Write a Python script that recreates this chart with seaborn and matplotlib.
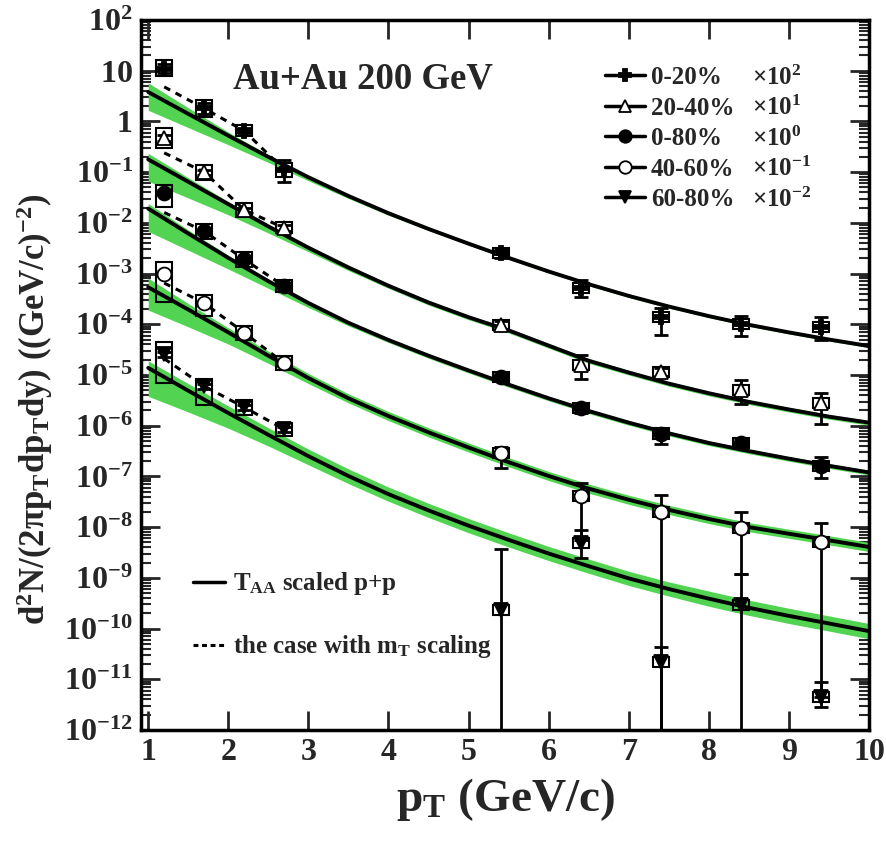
import numpy as np
import pandas as pd
import matplotlib
matplotlib.use("Agg")
import matplotlib.pyplot as plt
from matplotlib.lines import Line2D
from matplotlib.ticker import FixedLocator, LogLocator, NullFormatter
import seaborn as sns

# ---------------- data ----------------
centralities = ["0-20%", "20-40%", "0-80%", "40-60%", "60-80%"]
multipliers = [r"$\mathsf{\times10^{2}}$", r"$\mathsf{\times10^{1}}$", r"$\mathsf{\times10^{0}}$",
               r"$\mathsf{\times10^{-1}}$", r"$\mathsf{\times10^{-2}}$"]

# T_AA scaled p+p curves
pt_curve = [1, 1.5, 2, 2.5, 3, 3.5, 4, 4.5, 5, 5.5, 6, 6.5, 7, 7.5, 8, 8.5, 9, 9.5, 10]
curve_0_20 = [3.80, 1.41, 0.525, 0.200, 0.0794, 0.0339, 0.0155, 0.00759, 0.00389, 0.00204,
              0.00110, 6.17e-4, 3.63e-4, 2.24e-4, 1.45e-4, 9.77e-5, 6.92e-5, 5.01e-5, 3.72e-5]
curve_20_40 = [0.178, 0.0646, 0.0234, 0.00851, 0.00324, 0.00132, 5.75e-4, 2.69e-4, 1.38e-4, 7.59e-5,
               3.80e-5, 1.91e-5, 1.12e-5, 6.76e-6, 4.37e-6, 2.95e-6, 2.09e-6, 1.51e-6, 1.15e-6]
curve_0_80 = [0.0191, 0.00617, 0.00204, 7.08e-4, 2.63e-4, 1.07e-4, 4.90e-5, 2.40e-5, 1.23e-5, 6.46e-6,
              3.47e-6, 1.95e-6, 1.15e-6, 7.08e-7, 4.57e-7, 3.16e-7, 2.24e-7, 1.62e-7, 1.20e-7]
curve_40_60 = [5.37e-4, 1.95e-4, 6.92e-5, 2.40e-5, 8.71e-6, 3.47e-6, 1.55e-6, 7.41e-7, 3.72e-7, 1.91e-7,
               1.02e-7, 5.75e-8, 3.47e-8, 2.19e-8, 1.45e-8, 1.0e-8, 7.41e-9, 5.50e-9, 4.07e-9]
curve_60_80 = [1.38e-5, 4.90e-6, 1.78e-6, 6.61e-7, 2.51e-7, 1.02e-7, 4.47e-8, 2.14e-8, 1.07e-8, 5.62e-9,
               3.02e-9, 1.70e-9, 9.77e-10, 6.03e-10, 3.89e-10, 2.57e-10, 1.78e-10, 1.26e-10, 8.91e-11]

# green uncertainty band widths (decades below / above curve)
band_dn_0_20 = [0.36, 0.27, 0.18, 0.11, 0.07, 0.05, 0.04, 0.03, 0.03, 0.03, 0.03, 0.03, 0.03, 0.03, 0.03, 0.03, 0.03, 0.03, 0.03]
band_up_0_20 = [0.18, 0.12, 0.07, 0.04, 0.03, 0.03, 0.03, 0.03, 0.03, 0.03, 0.03, 0.03, 0.03, 0.03, 0.03, 0.03, 0.03, 0.03, 0.03]
band_dn_20_40 = [0.43, 0.32, 0.21, 0.13, 0.08, 0.06, 0.05, 0.05, 0.05, 0.05, 0.05, 0.05, 0.05, 0.05, 0.05, 0.05, 0.05, 0.05, 0.05]
band_up_20_40 = [0.12, 0.08, 0.05, 0.04, 0.04, 0.04, 0.04, 0.04, 0.04, 0.04, 0.04, 0.04, 0.04, 0.04, 0.04, 0.04, 0.04, 0.04, 0.04]
band_dn_0_80 = [0.45, 0.33, 0.22, 0.14, 0.09, 0.06, 0.05, 0.05, 0.05, 0.05, 0.05, 0.05, 0.05, 0.05, 0.05, 0.05, 0.05, 0.05, 0.05]
band_up_0_80 = [0.10, 0.07, 0.05, 0.04, 0.04, 0.04, 0.04, 0.04, 0.04, 0.04, 0.04, 0.04, 0.04, 0.04, 0.04, 0.04, 0.04, 0.04, 0.04]
band_dn_40_60 = [0.45, 0.34, 0.23, 0.15, 0.11, 0.09, 0.09, 0.09, 0.09, 0.09, 0.09, 0.09, 0.09, 0.09, 0.09, 0.09, 0.09, 0.09, 0.09]
band_up_40_60 = [0.18, 0.12, 0.09, 0.09, 0.09, 0.09, 0.09, 0.09, 0.09, 0.09, 0.09, 0.09, 0.09, 0.09, 0.09, 0.09, 0.09, 0.09, 0.09]
band_dn_60_80 = [0.56, 0.42, 0.30, 0.22, 0.17, 0.15, 0.14, 0.14, 0.14, 0.14, 0.14, 0.14, 0.14, 0.14, 0.15, 0.15, 0.15, 0.15, 0.15]
band_up_60_80 = [0.14, 0.14, 0.14, 0.14, 0.14, 0.14, 0.14, 0.14, 0.14, 0.14, 0.14, 0.14, 0.14, 0.14, 0.15, 0.15, 0.15, 0.15, 0.15]

# m_T scaling (dashed)
pt_mt = [1.2, 1.7, 2.2, 2.7]
mt_0_20 = [4.8, 1.8, 0.65, 0.11]
mt_20_40 = [0.24, 0.10, 0.018, 0.0079]
mt_0_80 = [0.016, 0.0068, 0.0019, 5.6e-4]
mt_40_60 = [6.5e-4, 2.6e-4, 6.8e-5, 1.7e-5]
mt_60_80 = [2.1e-5, 6.0e-6, 2.3e-6, 8.5e-7]

# data points
pt_data = [1.2, 1.7, 2.2, 2.7, 5.4, 6.4, 7.4, 8.4, 9.4]
y_0_20 = [11, 1.8, 0.65, 0.11, 2.5e-3, 5.1e-4, 1.4e-4, 1.0e-4, 8.8e-5]
lo_0_20 = [9.1, 1.43, 0.58, 0.063, 2.0e-3, 3.5e-4, 6.1e-5, 6.0e-5, 4.8e-5]
hi_0_20 = [13.3, 2.27, 0.73, 0.17, 3.1e-3, 7.4e-4, 2.1e-4, 1.45e-4, 1.4e-4]
y_20_40 = [0.47, 0.10, 0.018, 0.0079, 9.5e-5, 1.6e-5, 1.15e-5, 5.0e-6, 2.8e-6]
lo_20_40 = [0.42, 0.089, 0.016, 0.0070, 7.9e-5, 8.4e-6, 9.6e-6, 2.7e-6, 1.1e-6]
hi_20_40 = [0.53, 0.112, 0.020, 0.0089, 1.14e-4, 2.5e-5, 1.38e-5, 7.9e-6, 4.4e-6]
y_0_80 = [0.039, 0.0068, 0.0019, 5.6e-4, 9.1e-6, 2.2e-6, 7.0e-7, 4.5e-7, 1.6e-7]
lo_0_80 = [0.035, 0.0061, 0.0017, 5.0e-4, 7.6e-6, 1.75e-6, 4.4e-7, 3.6e-7, 9.2e-8]
hi_0_80 = [0.044, 0.0076, 0.0021, 6.3e-4, 1.09e-5, 2.77e-6, 8.8e-7, 5.7e-7, 2.4e-7]
y_40_60 = [1.0e-3, 2.6e-4, 6.8e-5, 1.7e-5, 2.9e-7, 4.1e-8, 2.0e-8, 9.5e-9, 5.0e-9]
lo_40_60 = [8.9e-4, 2.3e-4, 6.1e-5, 1.5e-5, 1.45e-7, 5.5e-9, 1e-13, 1.2e-9, 4.5e-12]
hi_40_60 = [1.12e-3, 2.9e-4, 7.6e-5, 1.9e-5, 3.8e-7, 7.5e-8, 4.4e-8, 2.0e-8, 1.2e-8]
y_60_80 = [2.6e-5, 6.0e-6, 2.3e-6, 8.5e-7, 2.3e-10, 4.8e-9, 2.2e-11, 2.9e-10, 4.5e-12]
lo_60_80 = [2.3e-5, 5.3e-6, 2.05e-6, 7.6e-7, 1e-13, 2.5e-9, 1e-13, 1e-13, 2.8e-12]
hi_60_80 = [2.9e-5, 6.7e-6, 2.6e-6, 9.5e-7, 3.7e-9, 8.7e-9, 4.4e-11, 1.2e-9, 9e-12]

# systematic boxes (decades below / above point)
sys_dn_0_20 = [0.15, 0.16, 0.10, 0.13, 0.1, 0.1, 0.1, 0.1, 0.1]
sys_up_0_20 = [0.17, 0.17, 0.11, 0.13, 0.1, 0.1, 0.1, 0.1, 0.1]
sys_dn_20_40 = [0.20, 0.15, 0.14, 0.10, 0.1, 0.1, 0.1, 0.1, 0.1]
sys_up_20_40 = [0.20, 0.15, 0.14, 0.11, 0.1, 0.1, 0.1, 0.1, 0.1]
sys_dn_0_80 = [0.28, 0.15, 0.14, 0.12, 0.1, 0.1, 0.1, 0.1, 0.1]
sys_up_0_80 = [0.16, 0.15, 0.14, 0.13, 0.1, 0.1, 0.1, 0.1, 0.1]
sys_dn_40_60 = [0.57, 0.26, 0.14, 0.14, 0.1, 0.1, 0.1, 0.1, 0.1]
sys_up_40_60 = [0.22, 0.16, 0.14, 0.14, 0.1, 0.1, 0.1, 0.1, 0.1]
sys_dn_60_80 = [0.57, 0.37, 0.15, 0.13, 0.1, 0.1, 0.1, 0.1, 0.1]
sys_up_60_80 = [0.24, 0.14, 0.15, 0.13, 0.1, 0.1, 0.1, 0.1, 0.1]

curves = [curve_0_20, curve_20_40, curve_0_80, curve_40_60, curve_60_80]
bands_dn = [band_dn_0_20, band_dn_20_40, band_dn_0_80, band_dn_40_60, band_dn_60_80]
bands_up = [band_up_0_20, band_up_20_40, band_up_0_80, band_up_40_60, band_up_60_80]
mts = [mt_0_20, mt_20_40, mt_0_80, mt_40_60, mt_60_80]
ys = [y_0_20, y_20_40, y_0_80, y_40_60, y_60_80]
los = [lo_0_20, lo_20_40, lo_0_80, lo_40_60, lo_60_80]
his = [hi_0_20, hi_20_40, hi_0_80, hi_40_60, hi_60_80]
sys_dn = [sys_dn_0_20, sys_dn_20_40, sys_dn_0_80, sys_dn_40_60, sys_dn_60_80]
sys_up = [sys_up_0_20, sys_up_20_40, sys_up_0_80, sys_up_40_60, sys_up_60_80]

markers = ["P", "^", "o", "o", "v"]
mfaces = ["black", "white", "black", "white", "black"]

ytick_vals = [10.0 ** k for k in range(2, -13, -1)]
ytick_labels = [r"$10^{2}$", r"$10$", r"$1$"] + [r"$10^{-%d}$" % k for k in range(1, 13)]
xtick_vals = [1, 2, 3, 4, 5, 6, 7, 8, 9, 10]

# ---------------- style ----------------
sns.set_theme(style="ticks")
plt.rcParams["font.family"] = ["Liberation Serif", "DejaVu Serif"]
plt.rcParams["font.weight"] = "bold"
plt.rcParams["mathtext.fontset"] = "custom"
plt.rcParams["mathtext.rm"] = "Liberation Serif:bold"
plt.rcParams["mathtext.bf"] = "Liberation Serif:bold"
plt.rcParams["mathtext.it"] = "Liberation Serif:bold"
plt.rcParams["mathtext.sf"] = "Liberation Serif"
plt.rcParams["mathtext.default"] = "bf"

GREEN = "#52d452"

fig = plt.figure(figsize=(8.87, 8.44), dpi=100)
ax = fig.add_axes([141 / 887, 1 - 730 / 844, 728 / 887, 710 / 844])
ax.set_yscale("log")
ax.set_xlim(0.91, 10)
ax.set_ylim(1e-12, 1e2)

for i, name in enumerate(centralities):
    c = np.array(curves[i])
    ax.fill_between(pt_curve, c * 10.0 ** (-np.array(bands_dn[i])), c * 10.0 ** np.array(bands_up[i]),
                    color=GREEN, lw=0, zorder=1)
    sns.lineplot(x=pt_curve, y=curves[i], ax=ax, color="black", lw=2.8, zorder=2,
                 estimator=None, sort=False)
    ax.plot(pt_mt, mts[i], color="black", lw=2.2, ls=(0, (2.2, 2.0)), zorder=3)
    y = np.array(ys[i])
    blo = y * 10.0 ** (-np.array(sys_dn[i]))
    bhi = y * 10.0 ** np.array(sys_up[i])
    ax.bar(pt_data, bhi - blo, bottom=blo, width=0.2, fill=False, edgecolor="black",
           linewidth=1.5, zorder=4)
    ax.errorbar(pt_data, y, yerr=[y - np.array(los[i]), np.array(his[i]) - y], fmt="none",
                ecolor="black", elinewidth=2.0, capsize=5, capthick=2.0, zorder=5)
    ax.plot(pt_data, y, ls="none", marker=markers[i], ms=10, mfc=mfaces[i],
            mec="black", mew=1.3, zorder=6)

# axes formatting
ax.yaxis.set_major_locator(FixedLocator(ytick_vals))
ax.set_yticklabels(ytick_labels)
ax.yaxis.set_minor_locator(LogLocator(base=10, subs=np.arange(2, 10), numticks=30))
ax.yaxis.set_minor_formatter(NullFormatter())
ax.set_xticks(xtick_vals)
ax.set_xticklabels([str(v) for v in xtick_vals])
ax.tick_params(axis="both", which="major", direction="in", length=14, width=2,
               top=True, right=True, labelsize=23, pad=6)
ax.tick_params(axis="y", which="minor", direction="in", length=7, width=1.5,
               left=True, right=True)
ax.tick_params(axis="x", which="minor", bottom=False, top=False)
for s in ax.spines.values():
    s.set_linewidth(2.5)
    s.set_color("black")
for lab in ax.get_xticklabels() + ax.get_yticklabels():
    lab.set_fontweight("bold")

ax.set_xlabel(r"$p_T$ (GeV/c)", fontsize=34, fontweight="bold", labelpad=6)
ax.set_ylabel(r"$d^2N/(2\pi p_T dp_T dy)$ ((GeV/c)$^{-2}$)", fontsize=25,
              fontweight="bold")
ax.yaxis.set_label_coords(-0.118, 0.452)

ax.text(0.126, 0.917, "Au+Au 200 GeV", transform=ax.transAxes, fontsize=26.5,
        fontweight="bold", va="center", ha="left")

# legend of centralities
handles = [Line2D([0], [0], color="black", lw=2.5, marker=markers[i], ms=9,
                  mfc=mfaces[i], mec="black", mew=1.3) for i in range(5)]
leg = ax.legend(handles, centralities, loc="upper left", bbox_to_anchor=(0.637, 0.935),
                frameon=False, fontsize=18, handlelength=1.6, handletextpad=0.25,
                labelspacing=0.3, borderpad=0, borderaxespad=0)
ax.add_artist(leg)

# legend of line styles
h2 = [Line2D([0], [0], color="black", lw=2.5),
      Line2D([0], [0], color="black", lw=2.2, ls=(0, (1.6, 1.2)))]
leg2 = ax.legend(h2, [r"$T_{AA}$ scaled p+p", r"the case with $m_T$ scaling"],
                 loc="upper left", bbox_to_anchor=(0.071, 0.225), frameon=False,
                 fontsize=18, handlelength=1.3, handletextpad=0.3, labelspacing=1.45,
                 borderpad=0, borderaxespad=0)

fig.canvas.draw()
inv = ax.transAxes.inverted()
for t, m in zip(leg.get_texts(), multipliers):
    bb = t.get_window_extent()
    yc = inv.transform(((bb.x0 + bb.x1) / 2, (bb.y0 + bb.y1) / 2))[1]
    ax.text(0.839, yc, m, transform=ax.transAxes, fontsize=18, va="center", ha="left")

fig.savefig("out.png", dpi=100)
